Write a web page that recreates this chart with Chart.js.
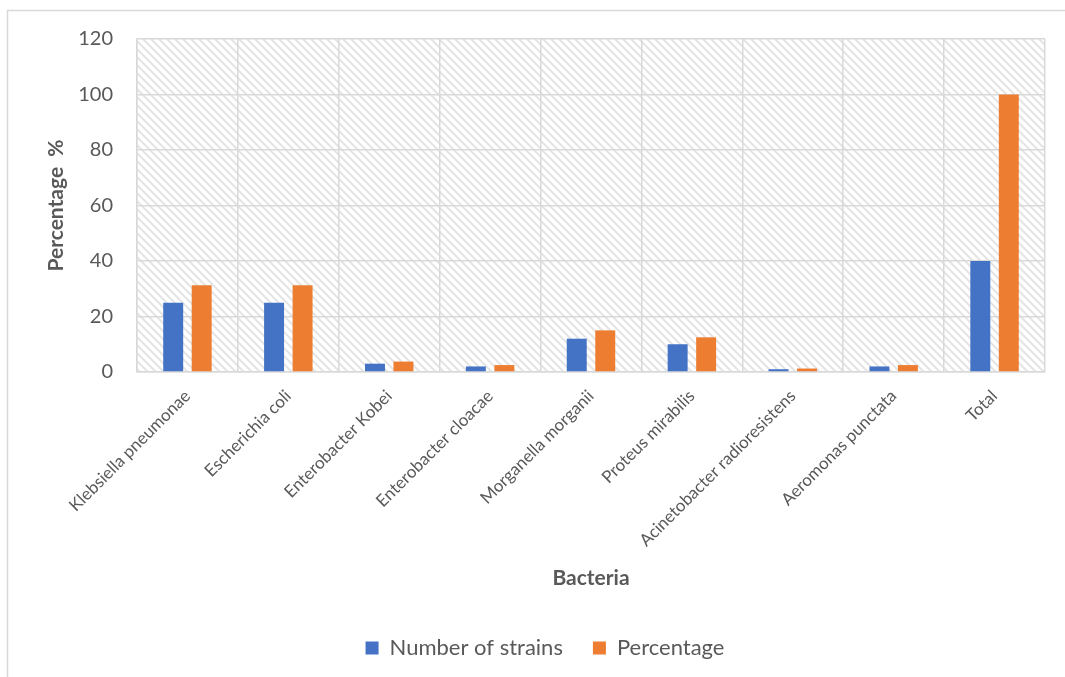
<!DOCTYPE html>
<html>
<head>
<meta charset="utf-8">
<script src="https://cdn.jsdelivr.net/npm/chart.js@4"></script>
<style>
  html, body { margin: 0; padding: 0; background: #fff; }
  #wrap { width: 1065px; height: 677px; }
</style>
</head>
<body>
<div id="wrap"><canvas id="bacteria"></canvas></div>
<script>
const categories = [
    "Klebsiella pneumonae", "Escherichia coli", "Enterobacter Kobei",
    "Enterobacter cloacae", "Morganella morganii", "Proteus mirabilis",
    "Acinetobacter radioresistens", "Aeromonas punctata", "Total"
];
const strains = [25, 25, 3, 2, 12, 10, 1, 2, 40];
const percentage = [31.25, 31.25, 3.75, 2.5, 15, 12.5, 1.25, 2.5, 100];
const yTicks = [0, 20, 40, 60, 80, 100, 120];

const FONT = "Lato";
const TEXT = "#595959";
const GRID = "#d9d9d9";

// diagonal hatch for the plot area
function hatch() {
    const c = document.createElement("canvas");
    c.width = 8; c.height = 8;
    const g = c.getContext("2d");
    g.fillStyle = "#fff";
    g.fillRect(0, 0, 8, 8);
    g.strokeStyle = "#e4e4e4";
    g.lineWidth = 2;
    g.beginPath();
    g.moveTo(-2, -2); g.lineTo(10, 10);
    g.moveTo(-2, 6); g.lineTo(2, 10);
    g.moveTo(6, -2); g.lineTo(10, 2);
    g.stroke();
    return g.createPattern(c, "repeat");
}

const frame = {
    id: "frame",
    beforeDraw(chart) {
        const {ctx, chartArea: a} = chart;
        ctx.save();
        ctx.strokeStyle = GRID;
        ctx.lineWidth = 1.5;
        ctx.strokeRect(7.5, 10.5, 1200, 800);
        ctx.fillStyle = hatch();
        ctx.fillRect(a.left, a.top, a.right - a.left, a.bottom - a.top);
        ctx.restore();
    }
};

new Chart(document.getElementById("bacteria"), {
    type: "bar",
    plugins: [frame],
    data: {
        labels: categories,
        datasets: [
            {
                label: "Number of strains",
                data: strains,
                backgroundColor: "#4472C4",
            },
            {
                label: "Percentage",
                data: percentage,
                backgroundColor: "#ED7D31",
            },
        ],
    },
    options: {
        responsive: true,
        maintainAspectRatio: false,
        animation: false,
        datasets: {
            bar: { categoryPercentage: 0.565, barPercentage: 0.7 }
        },
        layout: { padding: { top: 39, left: 25, right: 0, bottom: 8 } },
        plugins: {
            tooltip: { enabled: false },
            legend: {
                position: "bottom",
                labels: {
                    boxWidth: 13,
                    boxHeight: 13,
                    padding: 30,
                    color: TEXT,
                    font: { family: FONT, size: 22 },
                },
            },
        },
        scales: {
            x: {
                grid: { color: GRID, lineWidth: 1.5, drawTicks: false },
                border: { color: GRID, width: 1.5 },
                ticks: {
                    autoSkip: false,
                    maxRotation: 45,
                    minRotation: 45,
                    padding: 14,
                    color: TEXT,
                    font: { family: FONT, size: 17 },
                },
                title: {
                    display: true,
                    text: "Bacteria",
                    color: TEXT,
                    font: { family: FONT, size: 21, weight: "bold" },
                    padding: { top: 4, bottom: 16 },
                },
                afterFit: (s) => { s.height = 235; },
            },
            y: {
                min: 0,
                max: 120,
                afterBuildTicks: (s) => { s.ticks = yTicks.map((v) => ({ value: v })); },
                grid: { color: GRID, lineWidth: 1.5, drawTicks: false },
                border: { color: GRID, width: 1.5 },
                ticks: {
                    padding: 24,
                    color: TEXT,
                    font: { family: FONT, size: 20 },
                },
                title: {
                    display: true,
                    text: "Percentage  %",
                    color: TEXT,
                    font: { family: FONT, size: 21, weight: "bold" },
                    padding: { top: 19, bottom: 4 },
                },
                afterFit: (s) => { s.width = 112; },
            },
            // empty axis that only keeps room on the right
            yRight: {
                position: "right",
                grid: { display: false },
                border: { display: false },
                ticks: { display: false },
                afterFit: (s) => { s.width = 20; },
            },
        },
    },
});
</script>
</body>
</html>
